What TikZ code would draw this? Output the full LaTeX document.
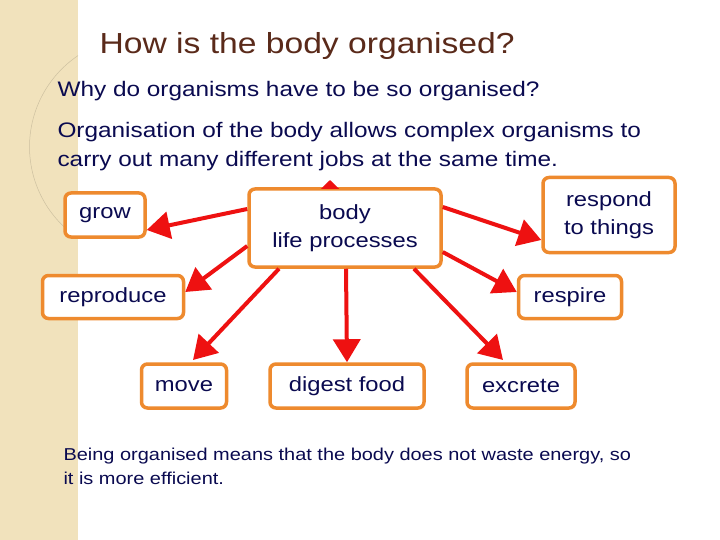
\documentclass[tikz,border=0pt]{standalone}
\usepackage{fontspec}
\setmainfont[FakeStretch=1.16]{Liberation Sans}
\usetikzlibrary{arrows.meta}
\definecolor{navy}{HTML}{0A0A50}
\definecolor{brownT}{HTML}{5A2A1A}
\definecolor{boxor}{HTML}{EE8A2E}
\definecolor{beige}{HTML}{F1E2BC}
\definecolor{arr}{HTML}{EE1111}
\begin{document}
\begin{tikzpicture}[x=1pt,y=-1pt,
  bx/.style={draw=boxor,line width=3.5pt,rounded corners=6pt,fill=white,text=navy,font=\fontsize{20.5}{28}\selectfont,align=center,inner sep=0pt},
  ar/.style={draw=arr,line width=4pt,-{Triangle[length=23pt,width=27pt]}},
  txt/.style={text=navy,anchor=west,align=left}]
\useasboundingbox (0,0) rectangle (720,540);
\fill[white] (0,0) rectangle (720,540);
\fill[beige] (0,0) rectangle (78,540);
\draw[white!85!beige,line width=1pt] (78,0) arc[start angle=0,end angle=-180,radius=40];
\draw[beige!85!black,line width=0.5pt] (140,330) ++(-62,-92) arc[start angle=124,end angle=236,radius=110];
\node[text=brownT,anchor=west,font=\fontsize{29}{32}\selectfont] (title) at (96,46) {How is the body organised?};
\node[txt,font=\fontsize{21}{23}\selectfont] (q) at (54,91) {Why do organisms have to be so organised?};
\node[txt,font=\fontsize{21}{29}\selectfont] (p) at (54,147) {Organisation of the body allows complex organisms to\\carry out many different jobs at the same time.};
\node[bx,minimum width=80pt,minimum height=44pt] (grow) at (105,215) {grow};
\node[bx,minimum width=192pt,minimum height=78pt] (body) at (345,228) {body\\life processes};
\node[bx,minimum width=132pt,minimum height=75pt] (resp) at (609,215) {respond\\to things};
\node[bx,minimum width=141pt,minimum height=43pt] (repr) at (113,297) {reproduce};
\node[bx,minimum width=103pt,minimum height=43pt] (rspr) at (570,297) {respire};
\node[bx,minimum width=85pt,minimum height=44pt] (move) at (184,386) {move};
\node[bx,minimum width=154pt,minimum height=44pt] (dig) at (347,386) {digest food};
\node[bx,minimum width=108pt,minimum height=44pt] (exc) at (521,386) {excrete};
\coordinate (up) at (330,180);
\draw[ar,-{Triangle[length=9pt,width=18pt]}] (body.north -| up) -- (up);
\draw[ar] (body.west |- 0,209) -- (grow.east |- 0,230);
\draw[ar] (body.west |- 0,246) -- (repr.east |- 0,292);
\draw[ar] (body.south -| 279,0) -- (193,360);
\draw[ar] (body.south -| 346,0) -- (dig.north);
\draw[ar] (body.south -| 414,0) -- (503,360);
\draw[ar] (body.east |- 0,252) -- (rspr.west |- 0,292);
\draw[ar] (body.east |- 0,207) -- (resp.west |- 0,240);
\node[txt,font=\fontsize{17.2}{24}\selectfont] (foot) at (60,466) {Being organised means that the body does not waste energy, so\\it is more efficient.};
\end{tikzpicture}
\end{document}
